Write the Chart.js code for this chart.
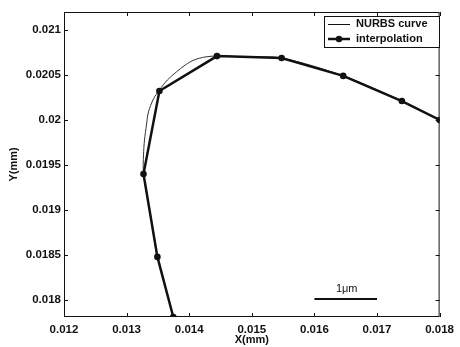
<!DOCTYPE html>
<html>
<head>
<meta charset="utf-8">
<script src="https://cdn.jsdelivr.net/npm/chart.js@4.4.1/dist/chart.umd.min.js"></script>
<style>
  html, body { margin: 0; padding: 0; background: #fff; }
  #wrap { width: 460px; height: 347px; }
</style>
</head>
<body>
<div id="wrap"><canvas id="c" width="460" height="347"></canvas></div>
<script>
// Axis ranges and tick values (mm)
const xTicks = [0.012, 0.013, 0.014, 0.015, 0.016, 0.017, 0.018];
const yTicks = [0.018, 0.0185, 0.019, 0.0195, 0.02, 0.0205, 0.021];
const xRange = [0.012, 0.018];
const yRange = [0.01781, 0.0212];

// Interpolated knot points (mm)
const interpX = [0.01386, 0.013746, 0.013492, 0.01327, 0.013524, 0.014444, 0.015476, 0.01646, 0.017397, 0.018, 0.01835];
const interpY = [0.0175, 0.01781, 0.018478, 0.0194, 0.020322, 0.02071, 0.020689, 0.02049, 0.02021, 0.02, 0.01988];

// NURBS curve samples (mm)
const nurbsX = [0.01386, 0.013746, 0.013492, 0.013381, 0.01327, 0.01327, 0.013286, 0.013317, 0.013349, 0.013429, 0.013524, 0.013651, 0.013794, 0.013937, 0.014079, 0.014254, 0.014444, 0.014952, 0.015476, 0.01646, 0.017397, 0.018, 0.01835];
const nurbsY = [0.0175, 0.01781, 0.018478, 0.018944, 0.0194, 0.019611, 0.019778, 0.019944, 0.020089, 0.020233, 0.020333, 0.020444, 0.020533, 0.020611, 0.020667, 0.0207, 0.020711, 0.0207, 0.020689, 0.02049, 0.02021, 0.02, 0.01988];

// 1 µm scale bar
const barX = [0.016, 0.017];
const barY = [0.018011, 0.018011];
const barLabel = '1\u03bcm';

const seriesNames = ['NURBS curve', 'interpolation'];

const toPts = (xs, ys) => xs.map((x, i) => ({ x, y: ys[i] }));
const fmt = v => String(Number(v.toFixed(5)));
const FONT = 'bold 11px "Liberation Sans", Arial, sans-serif';

// Box frame with inward ticks on all four sides
const framePlugin = {
  id: 'frame',
  afterDatasetsDraw(chart) {
    const { ctx, chartArea: a, scales } = chart;
    ctx.save();
    ctx.strokeStyle = '#111';
    ctx.lineWidth = 1;
    ctx.strokeRect(a.left + 0.5, a.top + 0.5, a.right - a.left - 1, a.bottom - a.top - 1);
    const L = 4;
    ctx.beginPath();
    xTicks.forEach(v => {
      const px = Math.round(scales.x.getPixelForValue(v)) + 0.5;
      ctx.moveTo(px, a.bottom); ctx.lineTo(px, a.bottom - L);
      ctx.moveTo(px, a.top); ctx.lineTo(px, a.top + L);
    });
    yTicks.forEach(v => {
      const py = Math.round(scales.y.getPixelForValue(v)) + 0.5;
      ctx.moveTo(a.left, py); ctx.lineTo(a.left + L, py);
      ctx.moveTo(a.right, py); ctx.lineTo(a.right - L, py);
    });
    ctx.stroke();

    // scale bar label
    const bx = (scales.x.getPixelForValue(barX[0]) + scales.x.getPixelForValue(barX[1])) / 2;
    const by = scales.y.getPixelForValue(barY[0]);
    ctx.fillStyle = '#111';
    ctx.font = '11px "Liberation Sans", Arial, sans-serif';
    ctx.textAlign = 'center';
    ctx.textBaseline = 'bottom';
    ctx.fillText(barLabel, bx + 1, by - 4);

    // legend box
    const lx = 324, ly = 16, lw = 115, lh = 31;
    ctx.fillStyle = '#fff';
    ctx.fillRect(lx, ly, lw, lh);
    ctx.strokeStyle = '#111';
    ctx.strokeRect(lx + 0.5, ly + 0.5, lw, lh);
    ctx.font = FONT;
    ctx.textAlign = 'left';
    ctx.textBaseline = 'middle';
    ctx.fillStyle = '#111';
    // NURBS entry
    ctx.lineWidth = 1;
    ctx.beginPath(); ctx.moveTo(328, 24.5); ctx.lineTo(350, 24.5); ctx.stroke();
    ctx.fillText(seriesNames[0], 356, 24);
    // interpolation entry
    ctx.lineWidth = 2.5;
    ctx.beginPath(); ctx.moveTo(328, 39); ctx.lineTo(350, 39); ctx.stroke();
    ctx.beginPath(); ctx.arc(339, 39, 3.2, 0, Math.PI * 2); ctx.fill();
    ctx.fillText(seriesNames[1], 356, 39);
    ctx.restore();
  }
};

new Chart(document.getElementById('c'), {
  type: 'scatter',
  data: {
    datasets: [
      {
        label: seriesNames[0],
        data: toPts(nurbsX, nurbsY),
        showLine: true,
        borderColor: '#333',
        borderWidth: 1,
        pointRadius: 0,
        tension: 0.3,
        order: 2
      },
      {
        label: seriesNames[1],
        data: toPts(interpX, interpY),
        showLine: true,
        borderColor: '#111',
        backgroundColor: '#111',
        borderWidth: 2.5,
        pointRadius: 3.3,
        pointBorderWidth: 0,
        pointHoverRadius: 3.3,
        order: 1
      },
      {
        label: 'scale',
        data: toPts(barX, barY),
        showLine: true,
        borderColor: '#111',
        borderWidth: 2,
        pointRadius: 0,
        order: 0
      }
    ]
  },
  options: {
    responsive: false,
    animation: false,
    events: [],
    layout: { padding: { left: 0, right: 18, top: 12, bottom: 0 } },
    plugins: { legend: { display: false }, tooltip: { enabled: false } },
    scales: {
      x: {
        type: 'linear',
        min: xRange[0], max: xRange[1],
        grid: { display: false, drawTicks: false },
        border: { display: false },
        ticks: {
          stepSize: 0.001,
          includeBounds: false,
          padding: 6,
          color: '#111',
          font: { family: '"Liberation Sans", Arial, sans-serif', size: 11.5, weight: 'bold' },
          maxRotation: 0,
          autoSkip: false,
          callback: v => fmt(v)
        },
        title: {
          display: true, text: 'X(mm)', color: '#111',
          padding: { top: 0, bottom: 0 },
          font: { family: '"Liberation Sans", Arial, sans-serif', size: 11, weight: 'bold' }
        },
        afterFit: s => { s.height = 30; }
      },
      y: {
        type: 'linear',
        min: yRange[0], max: yRange[1],
        grid: { display: false, drawTicks: false },
        border: { display: false },
        ticks: {
          stepSize: 0.0005,
          includeBounds: false,
          padding: 3,
          color: '#111',
          font: { family: '"Liberation Sans", Arial, sans-serif', size: 11.5, weight: 'bold' },
          autoSkip: false,
          callback: v => fmt(v)
        },
        title: {
          display: true, text: 'Y(mm)', color: '#111',
          padding: { top: 7, bottom: 0 },
          font: { family: '"Liberation Sans", Arial, sans-serif', size: 11, weight: 'bold' }
        },
        afterFit: s => { s.width = 64; }
      }
    }
  },
  plugins: [framePlugin]
});
</script>
</body>
</html>
